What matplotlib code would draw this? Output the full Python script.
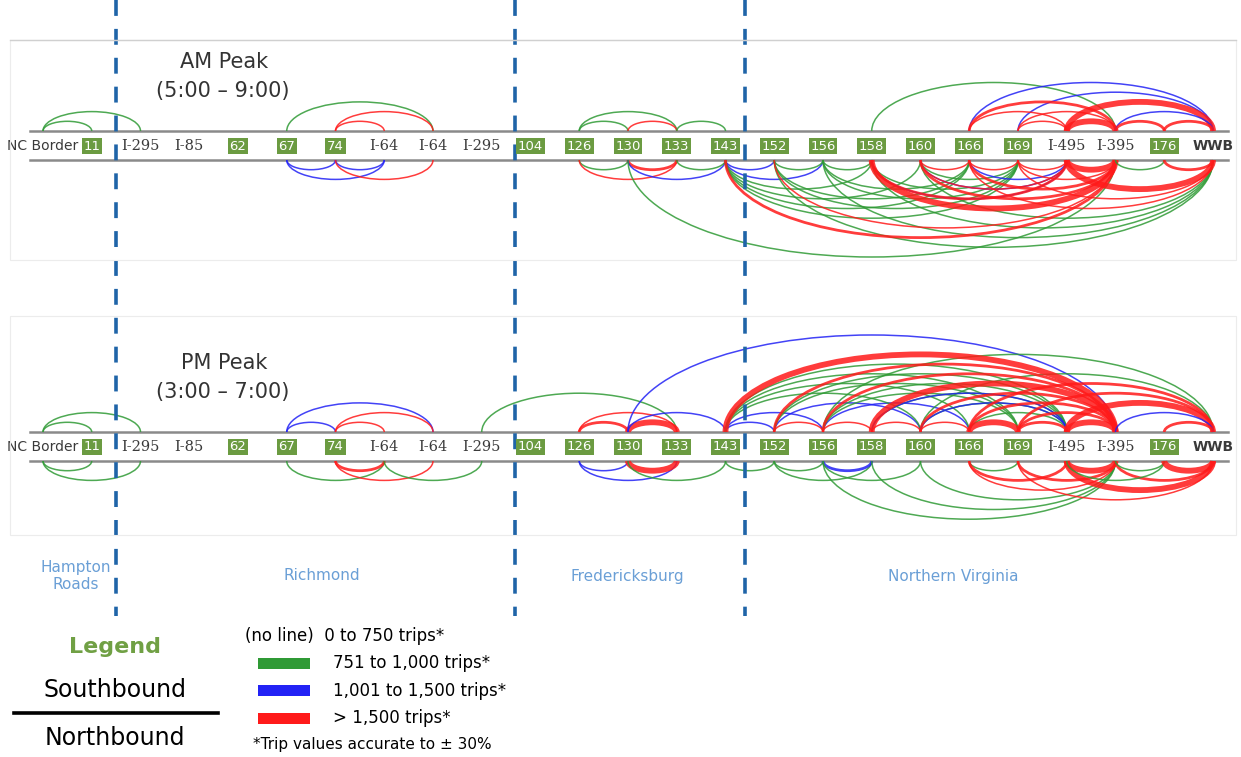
import matplotlib
matplotlib.use("Agg")
import matplotlib.pyplot as plt
from matplotlib.patches import Arc, Rectangle

# nodes along the I-95 corridor, south (left) to north (right)
nodes = ['NC Border', '11', 'I-295', 'I-85', '62', '67', '74', 'I-64', 'I-64', 'I-295',
         '104', '126', '130', '133', '143', '152', '156', '158', '160', '166', '169',
         'I-495', 'I-395', '176', 'WWB']

# region boundaries (between node indices) and region names
boundaries = [1.5, 9.68, 14.4]
regions = ['Hampton\nRoads', 'Richmond', 'Fredericksburg', 'Northern Virginia']
region_pos = [0.68, 5.72, 11.98, 18.67]

# trip arcs: (colour class, from node, to node, weight)
am_sb = [('g', 0, 1, 1), ('g', 0, 2, 1),
         ('g', 5, 8, 1), ('r', 6, 8, 1), ('r', 6, 7, 1),
         ('g', 11, 13, 1), ('g', 11, 12, 1), ('r', 12, 13, 1), ('g', 13, 14, 1),
         ('g', 17, 22, 1), ('b', 19, 24, 1), ('b', 20, 24, 1), ('r', 19, 22, 2),
         ('r', 19, 21, 1), ('r', 20, 22, 1), ('r', 20, 21, 1), ('r', 21, 22, 3),
         ('r', 21, 24, 3), ('b', 22, 24, 1), ('r', 22, 23, 2), ('r', 23, 24, 2)]

am_nb = [('b', 5, 6, 1), ('b', 5, 7, 1), ('b', 6, 7, 1), ('r', 6, 8, 1),
         ('g', 11, 12, 1), ('r', 11, 13, 1), ('r', 12, 13, 2), ('b', 12, 14, 1),
         ('g', 13, 14, 1), ('g', 12, 22, 1),
         ('b', 14, 15, 1), ('b', 14, 16, 1), ('g', 15, 16, 1), ('g', 16, 17, 1),
         ('r', 18, 19, 1),
         ('g', 14, 17, 1), ('g', 14, 18, 1), ('g', 14, 19, 1), ('g', 14, 20, 1),
         ('g', 15, 19, 1), ('g', 15, 20, 1), ('g', 16, 19, 1), ('g', 16, 20, 1),
         ('g', 17, 20, 1), ('g', 18, 20, 1),
         ('g', 15, 24, 1), ('g', 16, 24, 1), ('g', 17, 24, 1), ('g', 18, 24, 1),
         ('b', 17, 21, 1), ('b', 18, 21, 1), ('b', 19, 21, 1),
         ('r', 14, 22, 2), ('r', 15, 22, 1), ('r', 17, 22, 3), ('r', 18, 22, 2),
         ('r', 19, 22, 2), ('r', 20, 22, 1), ('r', 18, 21, 1), ('r', 17, 21, 2),
         ('r', 19, 20, 1), ('r', 20, 21, 1), ('r', 21, 22, 3), ('r', 21, 24, 3),
         ('g', 22, 23, 1), ('r', 23, 24, 2), ('r', 19, 24, 1), ('r', 20, 24, 1)]

pm_sb = [('g', 0, 1, 1), ('g', 0, 2, 1),
         ('b', 5, 6, 1), ('b', 5, 8, 1), ('r', 6, 8, 1), ('r', 6, 7, 1),
         ('g', 9, 13, 1), ('r', 11, 12, 2), ('r', 11, 13, 1), ('r', 12, 13, 3),
         ('b', 12, 14, 1), ('b', 12, 22, 1),
         ('b', 14, 15, 1), ('b', 14, 16, 1), ('b', 15, 18, 1), ('b', 16, 19, 1),
         ('g', 14, 18, 1), ('g', 14, 19, 1), ('g', 14, 20, 1), ('g', 14, 21, 1),
         ('g', 15, 20, 1), ('g', 15, 21, 1), ('g', 16, 20, 1), ('g', 16, 21, 1),
         ('g', 17, 21, 1), ('g', 18, 21, 1), ('g', 19, 21, 1),
         ('g', 16, 24, 1), ('g', 18, 24, 1),
         ('b', 17, 21, 1), ('b', 18, 21, 1),
         ('r', 15, 16, 1), ('r', 16, 17, 1), ('r', 17, 18, 1), ('r', 18, 19, 1),
         ('r', 14, 22, 3), ('r', 15, 22, 2), ('r', 16, 22, 2), ('r', 17, 22, 3),
         ('r', 18, 22, 2), ('r', 19, 22, 2), ('r', 20, 22, 2), ('r', 21, 22, 3),
         ('r', 19, 20, 3), ('r', 20, 21, 2), ('r', 21, 24, 3), ('r', 19, 24, 2),
         ('r', 20, 24, 2), ('b', 22, 24, 1), ('r', 23, 24, 2)]

pm_nb = [('g', 0, 1, 1), ('g', 0, 2, 1),
         ('g', 5, 7, 1), ('r', 6, 7, 2), ('r', 6, 8, 1), ('g', 7, 9, 1),
         ('b', 11, 12, 1), ('b', 11, 13, 1), ('r', 12, 13, 3), ('g', 12, 14, 1),
         ('g', 14, 15, 1), ('g', 15, 16, 1), ('g', 15, 17, 1), ('b', 16, 17, 2),
         ('g', 16, 18, 1), ('g', 16, 22, 1), ('g', 17, 22, 1), ('g', 18, 22, 1),
         ('g', 19, 20, 1), ('r', 19, 21, 2), ('r', 19, 22, 1), ('r', 20, 22, 2),
         ('r', 20, 24, 1), ('r', 21, 22, 3), ('r', 21, 24, 3), ('r', 22, 24, 2),
         ('g', 22, 23, 1), ('g', 21, 23, 1), ('r', 23, 24, 3)]

legend_labels = ['751 to 1,000 trips*', '1,001 to 1,500 trips*', '> 1,500 trips*']

colors = {'g': '#2f9a35', 'b': '#2222f5', 'r': '#ff1a1a'}
widths = {1: 1.1, 2: 2.0, 3: 4.2}
ARC_RY = 9.7  # px of arc height per node of span

fig = plt.figure(figsize=(12.41, 7.57), dpi=100)
ax = fig.add_axes([0, 0, 1, 1])
ax.set_xlim(-43 / 48.75, (1241 - 43) / 48.75)
ax.set_ylim(757, 0)
ax.axis('off')

# overlay in pixel coordinates for frames, legend and captions
ov = fig.add_axes([0, 0, 1, 1], zorder=5)
ov.set_xlim(0, 1241)
ov.set_ylim(757, 0)
ov.axis('off')
ov.patch.set_alpha(0)

# panel frames
for top, bot in [(40, 260), (316, 535)]:
    ov.add_patch(Rectangle((10, top), 1226, bot - top, fill=False, ec='#ececec', lw=0.8))
ov.plot([10, 1236], [40, 40], color='#d0d0d0', lw=1)


def draw_panel(y_top, y_bot, sb, nb, title, hours):
    for yy in (y_top, y_bot):
        ax.plot([-0.27, 24.3], [yy, yy], color='#8a8a8a', lw=1.8, zorder=2)
    for arcs, y0, t1, t2 in [(sb, y_top, 180, 360), (nb, y_bot, 0, 180)]:
        for c, a, b, w in arcs:
            span = b - a
            ax.add_patch(Arc(((a + b) / 2, y0), span, 2 * ARC_RY * span,
                             theta1=t1, theta2=t2, color=colors[c],
                             lw=widths[w], alpha=0.85, zorder=3))
    ym = (y_top + y_bot) / 2 + 0.5
    for i, lab in enumerate(nodes):
        if lab.isdigit():
            ax.text(i, ym, lab, ha='center', va='center', color='white', fontsize=9.5,
                    zorder=6, bbox=dict(boxstyle='square,pad=0.12', fc='#6b9b41', ec='none'))
        elif lab.startswith('I-'):
            ax.text(i, ym, lab, ha='center', va='center', color='#3a3a3a', fontsize=10.5,
                    family='DejaVu Serif', zorder=6)
        else:
            ax.text(i, ym, lab, ha='center', va='center', color='#3a3a3a', fontsize=10,
                    zorder=6, fontweight='bold' if lab == 'WWB' else 'normal')
    ax.text(3.71, y_top - 69, title, ha='center', va='center', fontsize=15, color='#333333')
    ax.text(3.69, y_top - 40, hours, ha='center', va='center', fontsize=15, color='#333333')


draw_panel(131, 160, am_sb, am_nb, 'AM Peak', '(5:00 \u2013 9:00)')
draw_panel(432, 461, pm_sb, pm_nb, 'PM Peak', '(3:00 \u2013 7:00)')

# region dividers
for bx in boundaries:
    ax.plot([bx, bx], [0, 616], color='#1f64a8', lw=2.6, linestyle=(0, (4.4, 3.6)), zorder=4)

for lab, px in zip(regions, region_pos):
    ax.text(px, 576, lab, ha='center', va='center', color='#6a9fd6', fontsize=11,
            linespacing=1.2)

# legend
ov.text(115, 647, 'Legend', ha='center', va='center', fontsize=16, fontweight='bold',
        color='#70a044')
ov.text(115, 690, 'Southbound', ha='center', va='center', fontsize=17, color='black')
ov.plot([14, 218], [713, 713], color='black', lw=2.6)
ov.text(115, 738, 'Northbound', ha='center', va='center', fontsize=17, color='black')
ov.text(245, 636, '(no line)  0 to 750 trips*', ha='left', va='center', fontsize=12)
for k, (c, lab) in enumerate(zip(['g', 'b', 'r'], legend_labels)):
    yc = 663 + 27.5 * k
    ov.add_patch(Rectangle((258, yc - 5.5), 52, 11, fc=colors[c], ec='none'))
    ov.text(333, yc, lab, ha='left', va='center', fontsize=12)
ov.text(253, 745, '*Trip values accurate to \u00b1 30%', ha='left', va='center', fontsize=11)

fig.savefig('out.png', dpi=100, facecolor='white')
